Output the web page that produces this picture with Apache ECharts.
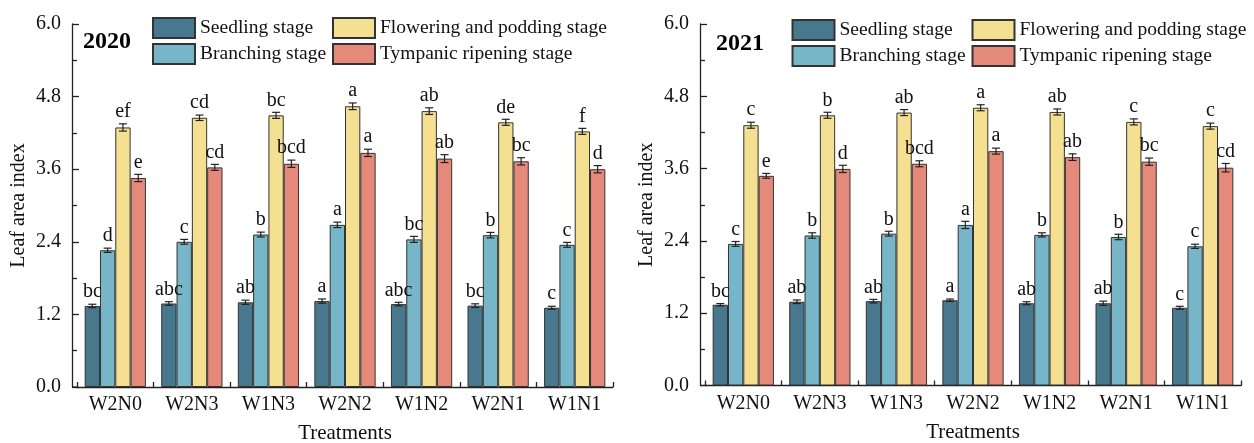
<!DOCTYPE html>
<html>
<head>
<meta charset="utf-8">
<script src="https://cdn.jsdelivr.net/npm/echarts@6/dist/echarts.min.js"></script>
<style>
html,body{margin:0;padding:0;background:#fff;}
#main{width:1254px;height:443px;}
</style>
</head>
<body>
<div id="main"></div>
<script>
var categories = ['W2N0','W2N3','W1N3','W2N2','W1N2','W2N1','W1N1'];
var stages = ['Seedling stage','Branching stage','Flowering and podding stage','Tympanic ripening stage'];
var colors = ['#48788d','#76b6c8','#f5df90','#e5897a'];
var yTicks = [0, 1.2, 2.4, 3.6, 4.8, 6.0];

// 2020
var seed2020 = [1.34, 1.38, 1.40, 1.42, 1.37, 1.345, 1.31];
var branch2020 = [2.26, 2.40, 2.52, 2.68, 2.44, 2.51, 2.35];
var flower2020 = [4.29, 4.45, 4.49, 4.64, 4.56, 4.375, 4.225];
var ripen2020 = [3.455, 3.63, 3.69, 3.87, 3.775, 3.73, 3.60];
var seedErr2020 = [0.028, 0.03, 0.035, 0.035, 0.03, 0.03, 0.025];
var branchErr2020 = [0.035, 0.04, 0.04, 0.045, 0.05, 0.045, 0.04];
var flowerErr2020 = [0.06, 0.045, 0.05, 0.055, 0.055, 0.05, 0.05];
var ripenErr2020 = [0.06, 0.05, 0.06, 0.06, 0.065, 0.06, 0.06];
var seedLet2020 = ['bc','abc','ab','a','abc','bc','c'];
var branchLet2020 = ['d','c','b','a','bc','b','c'];
var flowerLet2020 = ['ef','cd','bc','a','ab','de','f'];
var ripenLet2020 = ['e','cd','bcd','a','ab','bc','d'];

// 2021
var seed2021 = [1.34, 1.39, 1.40, 1.415, 1.365, 1.365, 1.29];
var branch2021 = [2.35, 2.49, 2.52, 2.665, 2.50, 2.465, 2.31];
var flower2021 = [4.32, 4.485, 4.53, 4.61, 4.54, 4.375, 4.305];
var ripen2021 = [3.48, 3.595, 3.68, 3.89, 3.79, 3.715, 3.615];
var seedErr2021 = [0.02, 0.03, 0.03, 0.02, 0.025, 0.035, 0.025];
var branchErr2021 = [0.04, 0.045, 0.04, 0.06, 0.035, 0.045, 0.035];
var flowerErr2021 = [0.05, 0.05, 0.05, 0.05, 0.05, 0.05, 0.05];
var ripenErr2021 = [0.04, 0.06, 0.05, 0.05, 0.055, 0.06, 0.07];
var seedLet2021 = ['bc','ab','ab','a','ab','ab','c'];
var branchLet2021 = ['c','b','b','a','b','b','c'];
var flowerLet2021 = ['c','b','ab','a','ab','c','c'];
var ripenLet2021 = ['e','d','bcd','a','ab','bc','cd'];

var years = ['2020','2021'];
var panelData = [
  {vals:[seed2020,branch2020,flower2020,ripen2020], errs:[seedErr2020,branchErr2020,flowerErr2020,ripenErr2020], lets:[seedLet2020,branchLet2020,flowerLet2020,ripenLet2020]},
  {vals:[seed2021,branch2021,flower2021,ripen2021], errs:[seedErr2021,branchErr2021,flowerErr2021,ripenErr2021], lets:[seedLet2021,branchLet2021,flowerLet2021,ripenLet2021]}
];

var FONT = '"Liberation Serif", "Times New Roman", serif';
var grids = [
  {left:77, right:641, top:24, bottom:56, outerBoundsMode:'none', containLabel:false},
  {left:705, right:13, top:24, bottom:57.5, outerBoundsMode:'none', containLabel:false}
];

function makeRender(i){
  return function(params, api){
    var x0 = api.value(0), v = api.value(1), e = api.value(2);
    var c = api.coord([x0, v]);
    var band = api.size([1,0])[0];
    var bw = band*0.2;
    var x = c[0] + (i-1.5)*bw;
    var hi = api.coord([x0, v+e])[1];
    var lo = api.coord([x0, v-e])[1];
    var cap = 4;
    var st = {stroke:'#222', lineWidth:1.2};
    return {type:'group', children:[
      {type:'line', shape:{x1:x,y1:hi,x2:x,y2:lo}, style:st},
      {type:'line', shape:{x1:x-cap,y1:hi,x2:x+cap,y2:hi}, style:st},
      {type:'line', shape:{x1:x-cap,y1:lo,x2:x+cap,y2:lo}, style:st},
      {type:'text', x:x, y:hi-2, style:{text:api.value(3), fill:'#111', font:'20px '+FONT, textAlign:'center', textVerticalAlign:'bottom'}}
    ]};
  };
}

var xAxes = [], yAxes = [], series = [], legends = [], graphics = [];
for (var p=0; p<2; p++){
  xAxes.push({
    type:'category', gridIndex:p, data:categories,
    name:'Treatments', nameLocation:'middle', nameGap:36,
    nameTextStyle:{fontFamily:FONT, fontSize:21, color:'#111'},
    axisLine:{lineStyle:{color:'#222', width:1.3}},
    axisTick:{show:true, inside:true, length:5, lineStyle:{color:'#222', width:1.3}},
    axisLabel:{fontFamily:FONT, fontSize:20, color:'#111', margin:8},
    splitLine:{show:false}
  });
  yAxes.push({
    type:'value', gridIndex:p, min:yTicks[0], max:yTicks[yTicks.length-1], interval:1.2, offset:5,
    name:'Leaf area index', nameLocation:'middle', nameGap:43,
    nameTextStyle:{fontFamily:FONT, fontSize:20, color:'#111'},
    axisLine:{show:true, lineStyle:{color:'#222', width:1.3}},
    axisTick:{show:true, inside:true, length:7, lineStyle:{color:'#222', width:1.3}},
    minorTick:{show:true, splitNumber:2, length:5, lineStyle:{color:'#222', width:1.3}},
    axisLabel:{fontFamily:FONT, fontSize:20, color:'#111', margin:11, formatter:function(v){return v.toFixed(1);}},
    splitLine:{show:false}
  });
  var d = panelData[p];
  for (var i=0; i<4; i++){
    series.push({
      type:'bar', name:stages[i], xAxisIndex:p, yAxisIndex:p,
      data:d.vals[i], barGap:'0%', barCategoryGap:'20%',
      itemStyle:{color:colors[i], borderColor:'#333', borderWidth:1},
      emphasis:{disabled:true}
    });
  }
  for (var i=0; i<4; i++){
    var ed = [];
    for (var k=0; k<categories.length; k++) ed.push([k, d.vals[i][k], d.errs[i][k], d.lets[i][k]]);
    series.push({
      type:'custom', name:stages[i]+' err', xAxisIndex:p, yAxisIndex:p,
      data:ed, encode:{x:0, y:1}, renderItem:makeRender(i), z:5, silent:true
    });
  }
}

var legendPos = [[152,17,332],[791.5,19,971.5]];
for (var p=0; p<2; p++){
  legends.push({
    orient:'vertical', left:legendPos[p][0], top:legendPos[p][1], itemWidth:42, itemHeight:20, itemGap:4, padding:0, icon:'rect',
    data:[stages[0], stages[1]], textStyle:{fontFamily:FONT, fontSize:19.5, color:'#111'}, selectedMode:false
  });
  legends.push({
    orient:'vertical', left:legendPos[p][2], top:legendPos[p][1], itemWidth:42, itemHeight:20, itemGap:4, padding:0, icon:'rect',
    data:[stages[2], stages[3]], textStyle:{fontFamily:FONT, fontSize:19.5, color:'#111'}, selectedMode:false
  });
}

graphics = [
  {type:'text', left:83, top:30, style:{text:years[0], font:'bold 24px '+FONT, fill:'#000'}},
  {type:'text', left:716, top:32, style:{text:years[1], font:'bold 24px '+FONT, fill:'#000'}},
  {type:'line', shape:{x1:72, y1:387, x2:77, y2:387}, style:{stroke:'#222', lineWidth:1.3}},
  {type:'line', shape:{x1:700, y1:385.5, x2:705, y2:385.5}, style:{stroke:'#222', lineWidth:1.3}}
];

var chart = echarts.init(document.getElementById('main'), null, {renderer:'canvas'});
chart.setOption({
  animation:false,
  backgroundColor:'#fff',
  grid:grids,
  xAxis:xAxes,
  yAxis:yAxes,
  legend:legends,
  series:series,
  graphic:graphics
});
</script>
</body>
</html>
